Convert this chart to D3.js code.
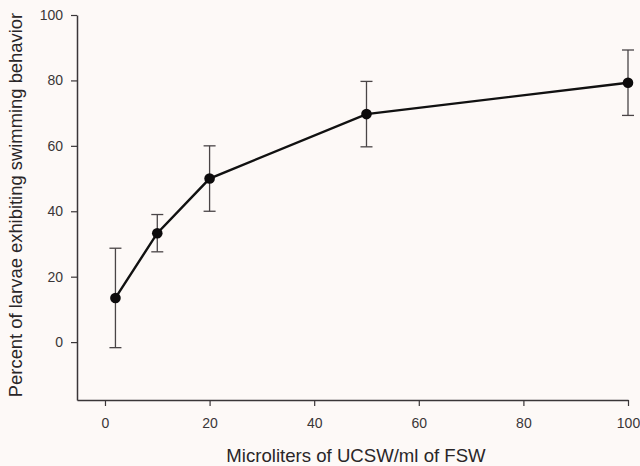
<!DOCTYPE html>
<html><head><meta charset="utf-8">
<script src="https://cdn.jsdelivr.net/npm/d3@7"></script>
<style>body{margin:0;background:#fdf9f7;} svg{display:block;}</style>
</head><body>
<script>
const concentrations = [2, 10, 20, 50, 100];
const percentSwimming = [13.5, 33.3, 50, 69.7, 79.3];
const errorBars = [15.2, 5.7, 10, 10, 10];
const xTicks = [0, 20, 40, 60, 80, 100];
const yTicks = [0, 20, 40, 60, 80, 100];

const W = 640, H = 466;
const svg = d3.select("body").append("svg").attr("width", W).attr("height", H)
  .style("background", "#fdf9f7");

const x = d3.scaleLinear().domain([-5.35, 100]).range([77, 628]);
const y = d3.scaleLinear().domain([-17.7, 100]).range([400, 15]);

const axisColor = "#3a3638";
const font = "Liberation Sans, Arial, sans-serif";

// x axis
const gx = svg.append("g").attr("transform", "translate(0,400)")
  .call(d3.axisBottom(x).tickValues(xTicks).tickSize(6).tickSizeOuter(0).tickPadding(12));
// y axis
const gy = svg.append("g").attr("transform", "translate(77,0)")
  .call(d3.axisLeft(y).tickValues(yTicks).tickSize(6).tickSizeOuter(0).tickPadding(8));
[gx, gy].forEach(g => {
  g.select(".domain").attr("stroke", axisColor).attr("stroke-width", 1.5);
  g.selectAll(".tick line").attr("stroke", axisColor).attr("stroke-width", 1.2);
  g.selectAll(".tick text").attr("fill", "#3a3638").style("font-family", font).style("font-size", "14px");
});

// error bars
const eb = svg.append("g").attr("stroke", "#4a4547").attr("stroke-width", 1.3);
concentrations.forEach((c, i) => {
  const cx = x(c), top = y(percentSwimming[i] + errorBars[i]), bot = y(percentSwimming[i] - errorBars[i]);
  eb.append("line").attr("x1", cx).attr("x2", cx).attr("y1", top).attr("y2", bot);
  eb.append("line").attr("x1", cx - 6).attr("x2", cx + 6).attr("y1", top).attr("y2", top);
  eb.append("line").attr("x1", cx - 6).attr("x2", cx + 6).attr("y1", bot).attr("y2", bot);
});

// line
const line = d3.line().x((d, i) => x(concentrations[i])).y(d => y(d));
svg.append("path").datum(percentSwimming).attr("d", line)
  .attr("fill", "none").attr("stroke", "#111").attr("stroke-width", 2.4);

// points
svg.append("g").selectAll("circle").data(percentSwimming).join("circle")
  .attr("cx", (d, i) => x(concentrations[i])).attr("cy", d => y(d)).attr("r", 5.3)
  .attr("fill", "#0d0b0c");

// labels
svg.append("text").attr("x", 356).attr("y", 462).attr("text-anchor", "middle")
  .style("font-family", font).style("font-size", "18.6px").attr("fill", "#2a2628")
  .text("Microliters of UCSW/ml of FSW");
svg.append("text").attr("transform", "translate(22,205) rotate(-90)").attr("text-anchor", "middle")
  .style("font-family", font).style("font-size", "18.4px").attr("fill", "#2a2628")
  .text("Percent of larvae exhibiting swimming behavior");
</script>
</body></html>
